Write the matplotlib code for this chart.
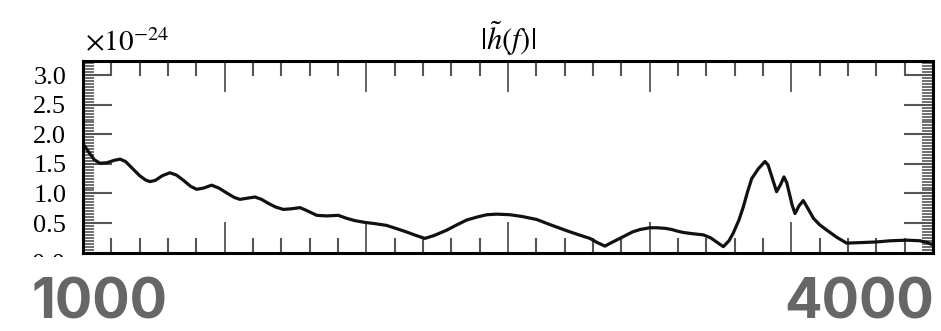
import numpy as np
import matplotlib
matplotlib.use('Agg')
import matplotlib.pyplot as plt
from matplotlib.patches import Rectangle
from matplotlib.ticker import MultipleLocator

plt.rcParams['font.family'] = ['Liberation Serif', 'DejaVu Serif']
plt.rcParams['mathtext.fontset'] = 'stix'

# frequency (Hz) and |h(f)| in units of 1e-24
freq = [1000, 1020, 1040, 1060, 1085, 1110, 1131, 1150, 1175, 1200,
        1220, 1236, 1255, 1280, 1307, 1330, 1355, 1380, 1401, 1425,
        1454, 1480, 1510, 1535, 1554, 1580, 1607, 1630, 1655, 1680,
        1707, 1735, 1766, 1790, 1825, 1860, 1901, 1930, 1960, 1995,
        2030, 2071, 2110, 2141, 2175, 2207, 2240, 2284, 2320, 2354,
        2390, 2425, 2460, 2507, 2550, 2601, 2650, 2707, 2750, 2789,
        2815, 2842, 2870, 2907, 2940, 2966, 3000, 3025, 3055, 3078,
        3100, 3119, 3150, 3189, 3215, 3236, 3260, 3280, 3295, 3315,
        3331, 3345, 3360, 3384, 3407, 3418, 3430, 3448, 3462, 3474,
        3484, 3493, 3503, 3513, 3527, 3542, 3558, 3578, 3600, 3625,
        3660, 3695, 3750, 3801, 3850, 3907, 3954, 3980, 4000]
h_abs = [1.84, 1.70, 1.57, 1.51, 1.52, 1.56, 1.58, 1.54, 1.42, 1.30,
         1.23, 1.20, 1.22, 1.30, 1.35, 1.31, 1.22, 1.12, 1.07, 1.09,
         1.14, 1.09, 1.00, 0.93, 0.90, 0.92, 0.94, 0.90, 0.83, 0.77,
         0.73, 0.74, 0.76, 0.71, 0.63, 0.62, 0.63, 0.58, 0.54, 0.51,
         0.49, 0.46, 0.40, 0.35, 0.29, 0.24, 0.29, 0.38, 0.47, 0.55,
         0.60, 0.64, 0.65, 0.64, 0.61, 0.56, 0.47, 0.37, 0.30, 0.24,
         0.17, 0.11, 0.18, 0.27, 0.35, 0.39, 0.42, 0.42, 0.41, 0.39,
         0.36, 0.34, 0.32, 0.30, 0.25, 0.18, 0.10, 0.20, 0.33, 0.55,
         0.78, 1.02, 1.25, 1.42, 1.54, 1.48, 1.30, 1.03, 1.15, 1.28,
         1.18, 1.00, 0.80, 0.66, 0.79, 0.88, 0.75, 0.58, 0.47, 0.38,
         0.26, 0.16, 0.17, 0.18, 0.20, 0.21, 0.20, 0.17, 0.13]

yticks = [0.0, 0.5, 1.0, 1.5, 2.0, 2.5, 3.0]
range_labels = ['1000', '4000']

fig = plt.figure(figsize=(9.41, 3.31), dpi=100)
ax = fig.add_axes([0.0882, 0.2369, 0.9033, 0.5789])

ax.plot(freq, h_abs, color='#111111', lw=2.3, solid_joinstyle='round')
ax.set_xlim(1000, 4000)
ax.set_ylim(0, 3.24)

# framed axes, ticks pointing inwards on every side
for sp in ax.spines.values():
    sp.set_linewidth(2.2)
ax.xaxis.set_major_locator(MultipleLocator(500))
ax.xaxis.set_minor_locator(MultipleLocator(100))
ax.set_yticks(yticks)
ax.yaxis.set_minor_locator(MultipleLocator(0.05))
ax.tick_params(which='both', direction='in', top=True, right=True,
               labelbottom=False, color='#555555')
ax.tick_params(axis='x', which='major', length=22, width=1.3)
ax.tick_params(axis='x', which='minor', length=11, width=1.5)
ax.tick_params(axis='y', which='major', length=21, width=1.5, pad=12,
               labelsize=19)
ax.tick_params(axis='y', which='minor', length=8, width=1.2)
ax.set_yticklabels(['' if v == 0 else '%.1f' % v for v in yticks])
ax.text(-0.021, -0.065, '0.0', transform=ax.transAxes, ha='right',
        va='center', fontsize=19)

ax.set_title(r'$|\tilde{h}(f)|$', fontsize=22, pad=8)
fig.text(0.09, 0.845, r'$\times10^{-24}$', fontsize=21, ha='left',
         va='baseline')

# blank strip under the frame, then the range labels
fig.patches.append(Rectangle((0, 0), 1, 0.2236, transform=fig.transFigure,
                             facecolor='white', edgecolor='none', zorder=5))
fig.text(0.033, 0.004, range_labels[0], fontsize=40, fontweight='bold',
         family=['Inter', 'Liberation Sans'], color='#666666', ha='left',
         va='bottom', zorder=6)
fig.text(0.993, 0.004, range_labels[1], fontsize=40, fontweight='bold',
         family=['Inter', 'Liberation Sans'], color='#666666', ha='right',
         va='bottom', zorder=6)

fig.savefig('out.png', dpi=100)
